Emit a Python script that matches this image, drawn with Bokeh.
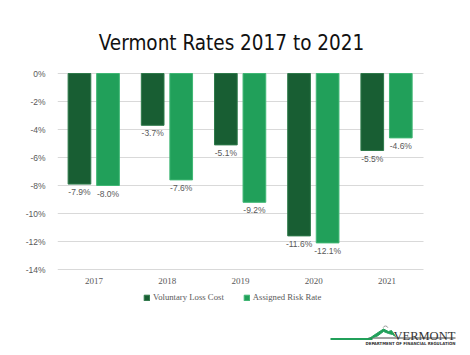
from bokeh.plotting import figure
from bokeh.models import (ColumnDataSource, Range1d, FixedTicker,
                          PrintfTickFormatter, Legend, LegendItem)
from bokeh.transform import dodge
from bokeh.core.properties import value
from bokeh.embed import file_html
from bokeh.resources import INLINE

years = ["2017", "2018", "2019", "2020", "2021"]
voluntary = [-7.9, -3.7, -5.1, -11.6, -5.5]
assigned = [-8.0, -7.6, -9.2, -12.1, -4.6]
y_ticks = [0, -2, -4, -6, -8, -10, -12, -14]
series_names = ["Voluntary Loss Cost", "Assigned Risk Rate"]
title_text = "Vermont Rates 2017 to 2021"

DARK = "#185e33"
LIGHT = "#21a05a"
GRAY = "#595959"

n = len(years)
x_pos = [i + 0.5 for i in range(n)]
src = ColumnDataSource(dict(
    x=x_pos,
    year=years,
    vol=voluntary,
    asg=assigned,
    vol_lbl=[f"{v:.1f}%" for v in voluntary],
    asg_lbl=[f"{v:.1f}%" for v in assigned],
))
grid_src = ColumnDataSource(dict(y=y_ticks, x0=[0] * len(y_ticks), x1=[n] * len(y_ticks)))

# Layout (canvas pixels): frame covers x 57..470, y 0..355.
# Category band spans x 57..423; value 0 sits at row 73 and -14 at row 269.
W, H, FL, CR, R0, R14 = 470, 355, 57, 423, 73, 269
px_per_cat = (CR - FL) / n
px_per_unit = (R14 - R0) / 14
x_end = n + (W - CR) / px_per_cat
y_top = R0 / px_per_unit
y_bottom = -14 - (H - R14) / px_per_unit

p = figure(width=W, height=H, x_range=Range1d(0, x_end),
           y_range=Range1d(y_bottom, y_top), output_backend="svg", toolbar_location=None,
           min_border_left=FL, min_border_right=0, min_border_top=0,
           min_border_bottom=0)
p.outline_line_color = None
p.background_fill_color = "white"
p.border_fill_color = "white"

# pixel helper ranges for title and decorative logo (canvas pixels)
p.extra_x_ranges = {"px": Range1d(FL, W)}
p.extra_y_ranges = {"py": Range1d(H, 0)}

# gridlines limited to the category band
p.segment(x0="x0", x1="x1", y0="y", y1="y", source=grid_src,
          line_color="#d9d9d9", line_width=1)

r1 = p.vbar(x=dodge("x", -0.2), top="vol", bottom=0, width=0.31,
            source=src, fill_color=DARK, line_color="#2e7a4a", line_width=1)
r2 = p.vbar(x=dodge("x", 0.19), top="asg", bottom=0, width=0.31,
            source=src, fill_color=LIGHT, line_color="#3fb774", line_width=1)

p.text(x=dodge("x", -0.2), y="vol", text="vol_lbl", source=src,
       text_align="center", text_baseline="top", y_offset=3,
       text_font=value("Liberation Sans"), text_font_size="8.5px", text_color=GRAY)
p.text(x=dodge("x", 0.19), y="asg", text="asg_lbl", source=src,
       text_align="center", text_baseline="top", y_offset=3,
       text_font=value("Liberation Sans"), text_font_size="8.5px", text_color=GRAY)

# axes
p.yaxis.ticker = FixedTicker(ticks=y_ticks)
p.yaxis.formatter = PrintfTickFormatter(format="%d%%")
p.xaxis.ticker = FixedTicker(ticks=x_pos)
p.xaxis.major_label_overrides = {xp: yr for xp, yr in zip(x_pos, years)}
for ax in (p.xaxis[0], p.yaxis[0]):
    ax.axis_line_color = None
    ax.major_tick_line_color = None
    ax.minor_tick_line_color = None
    ax.major_label_text_color = GRAY
    ax.major_label_text_font_size = "8.5px"
p.yaxis.major_label_text_font = "Liberation Sans"
p.xaxis.major_label_text_font = "Liberation Serif"
p.xaxis.major_label_text_font_size = "9px"
p.xaxis.fixed_location = -14
p.yaxis.major_label_standoff = 6
p.xaxis.major_label_standoff = 2
p.xgrid.grid_line_color = None
p.ygrid.grid_line_color = None

# legend
legend = Legend(items=[LegendItem(label=series_names[0], renderers=[r1]),
                       LegendItem(label=series_names[1], renderers=[r2])],
                orientation="horizontal", location=(86, 53),
                background_fill_alpha=0, border_line_color=None,
                label_text_font="Liberation Serif", label_text_font_size="8.7px",
                label_text_color=GRAY, glyph_width=7, glyph_height=7,
                label_standoff=3, spacing=19, padding=0, margin=0,
                label_height=9)
p.add_layout(legend, "center")

# title
p.text(x=[231], y=[42], text=[title_text], text_align="center",
       text_baseline="alphabetic", text_font=value("DejaVu Sans Condensed"),
       text_font_size="20.5px", text_color="#111111",
       x_range_name="px", y_range_name="py")

# logo (decoration)
p.segment(x0=[330], y0=[338.5], x1=[372], y1=[338.5], line_color=LIGHT, line_width=2,
          x_range_name="px", y_range_name="py")
p.segment(x0=[368], y0=[337.5], x1=[455], y1=[337.5], line_color="#444444", line_width=1,
          x_range_name="px", y_range_name="py")
p.patch(x=[368, 376, 383, 388, 391, 395, 392, 388, 383, 377],
        y=[338.5, 333, 328.5, 331, 330, 336, 334, 333, 331, 335.5],
        fill_color=LIGHT, line_color=LIGHT, x_range_name="px", y_range_name="py")
p.arc(x=[385], y=[328], radius=2.5, start_angle=0.3, end_angle=2.8,
      line_color="#888888", line_width=0.8, x_range_name="px", y_range_name="py")
p.text(x=[393], y=[335.5], text=["VERMONT"], text_baseline="alphabetic",
       text_font=value("Liberation Serif"), text_font_size="12.5px",
       text_color="#333333", x_range_name="px", y_range_name="py")
p.text(x=[410], y=[342.5], text=["DEPARTMENT OF FINANCIAL REGULATION"],
       text_align="center", text_baseline="middle",
       text_font=value("DejaVu Sans Condensed"), text_font_size="4.3px",
       text_font_style="bold", text_color="#333333", x_range_name="px", y_range_name="py")

html = file_html(p, INLINE)
open("out.html", "w").write(html)
